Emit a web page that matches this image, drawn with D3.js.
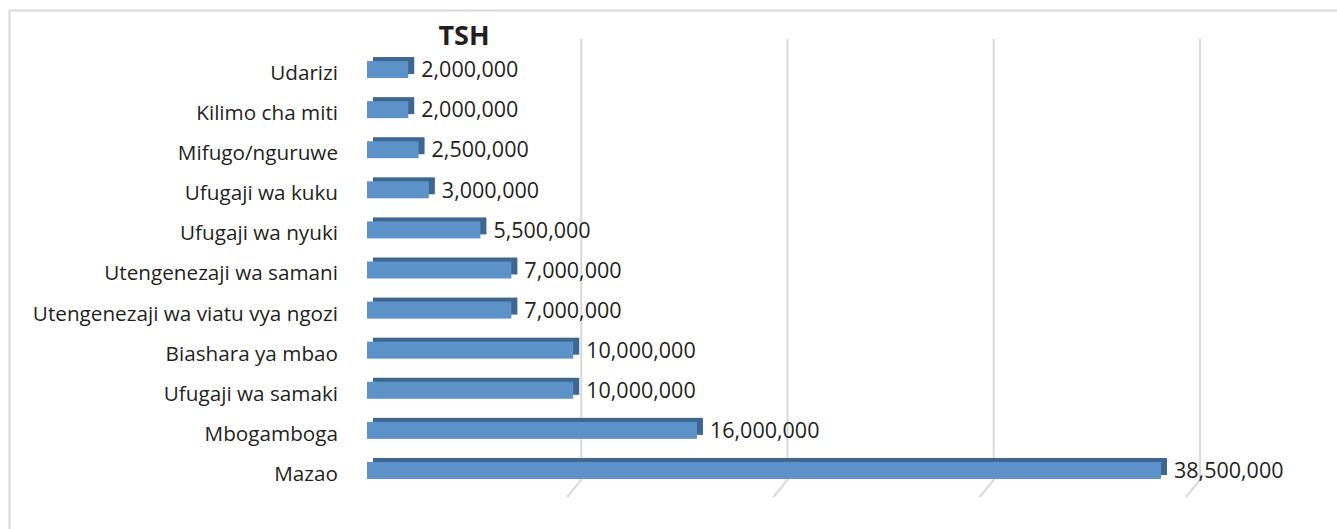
<!DOCTYPE html>
<html>
<head>
<meta charset="utf-8">
<script src="https://cdn.jsdelivr.net/npm/d3@7"></script>
<style>
  body { margin: 0; background: #fff; }
  text { font-family: "Open Sans", "Noto Sans", sans-serif; fill: #231f20; }
</style>
</head>
<body>
<div id="chart"></div>
<script>
// categories, top to bottom
const categories = [
  "Udarizi", "Kilimo cha miti", "Mifugo/nguruwe", "Ufugaji wa kuku",
  "Ufugaji wa nyuki", "Utengenezaji wa samani", "Utengenezaji wa viatu vya ngozi",
  "Biashara ya mbao", "Ufugaji wa samaki", "Mbogamboga", "Mazao"
];
const values = [
  2000000, 2000000, 2500000, 3000000, 5500000, 7000000,
  7000000, 10000000, 10000000, 16000000, 38500000
];
const gridTicks = [10000000, 20000000, 30000000, 40000000];
const title = "TSH";

const W = 1337, H = 529;
const svg = d3.select("#chart").append("svg")
  .attr("width", W).attr("height", H);

// outer chart border
svg.append("rect")
  .attr("x", 9.5).attr("y", 10.5)
  .attr("width", 1340).attr("height", 540)
  .attr("fill", "none").attr("stroke", "#d9d9d9").attr("stroke-width", 2);

// value scale for the front face of the bars
const x = d3.scaleLinear().domain([0, 38500000]).range([367, 1161]);
const y = d3.scaleBand().domain(categories)
  .range([41, 499]).paddingInner(0.576).paddingOuter(0.5);

// 3d depth offsets
const depth = {dx: 6, dy: -4};
const wall = {dx: 8, top: 39, bottom: 480};
const floor = {dx: -6, y: 497};

// gridlines on back wall, bending down the floor
svg.selectAll("polyline.grid")
  .data(gridTicks)
  .join("polyline")
    .attr("class", "grid")
    .attr("fill", "none")
    .attr("stroke", "#d9d9d9")
    .attr("stroke-width", 2)
    .attr("points", d => [
      [x(d) + wall.dx, wall.top],
      [x(d) + wall.dx, wall.bottom],
      [x(d) + floor.dx, floor.y]
    ].join(" "));

// back face of bars (darker)
svg.selectAll("rect.back")
  .data(values)
  .join("rect")
    .attr("class", "back")
    .attr("x", x(0) + depth.dx)
    .attr("y", (d, i) => y(categories[i]) + depth.dy)
    .attr("width", d => x(d) - x(0))
    .attr("height", y.bandwidth())
    .attr("fill", "#3d6791");

// front face of bars
svg.selectAll("rect.front")
  .data(values)
  .join("rect")
    .attr("class", "front")
    .attr("x", x(0))
    .attr("y", (d, i) => y(categories[i]))
    .attr("width", d => x(d) - x(0))
    .attr("height", y.bandwidth())
    .attr("fill", "#5c92c8");

// value labels
const fmt = d3.format(",");
svg.selectAll("text.val")
  .data(values)
  .join("text")
    .attr("class", "val")
    .attr("x", d => x(d) + depth.dx + 7)
    .attr("y", (d, i) => y(categories[i]) + y.bandwidth() / 2)
    .attr("dy", "0.36em")
    .style("font-size", "21.5px")
    .text(d => fmt(d));

// category labels
svg.selectAll("text.cat")
  .data(categories)
  .join("text")
    .attr("class", "cat")
    .attr("x", 338)
    .attr("y", d => y(d) + y.bandwidth() / 2 + 3)
    .attr("dy", "0.36em")
    .attr("text-anchor", "end")
    .style("font-size", "20.7px")
    .text(d => d);

// title
svg.append("text")
  .attr("x", 464).attr("y", 45)
  .attr("text-anchor", "middle")
  .style("font-size", "27px")
  .style("font-weight", "bold")
  .text(title);
</script>
</body>
</html>
